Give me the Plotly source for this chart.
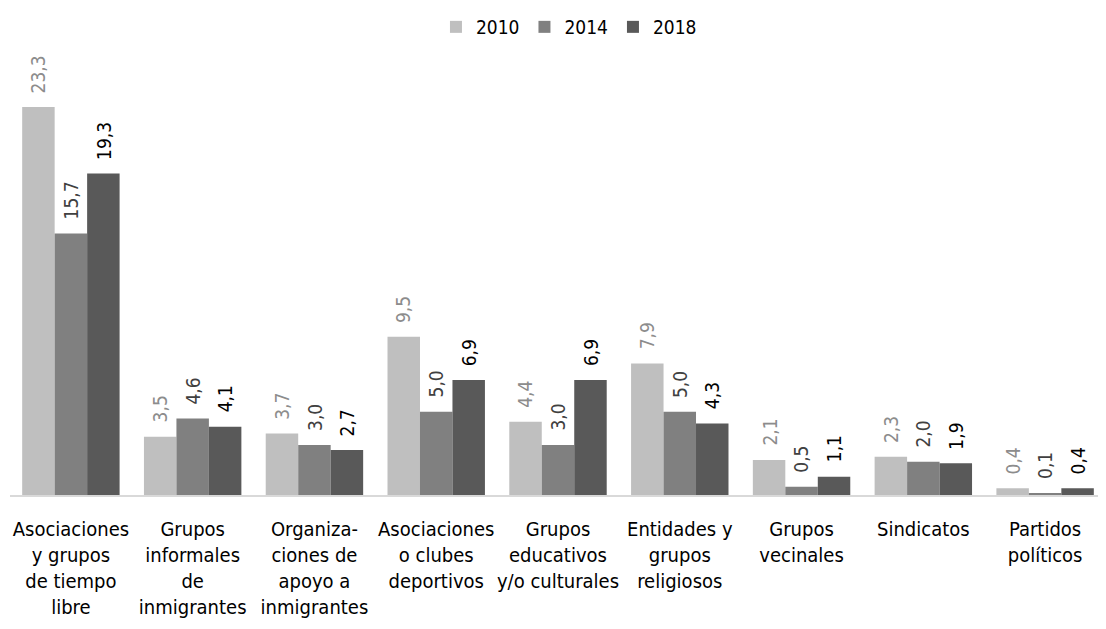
import plotly.graph_objects as go

categories = [
    "Asociaciones<br>y grupos<br>de tiempo<br>libre",
    "Grupos<br>informales<br>de<br>inmigrantes",
    "Organiza-<br>ciones de<br>apoyo a<br>inmigrantes",
    "Asociaciones<br>o clubes<br>deportivos",
    "Grupos<br>educativos<br>y/o culturales",
    "Entidades y<br>grupos<br>religiosos",
    "Grupos<br>vecinales",
    "Sindicatos",
    "Partidos<br>políticos",
]
series_names = ["2010", "2014", "2018"]
v2010 = [23.3, 3.5, 3.7, 9.5, 4.4, 7.9, 2.1, 2.3, 0.4]
v2014 = [15.7, 4.6, 3.0, 5.0, 3.0, 5.0, 0.5, 2.0, 0.1]
v2018 = [19.3, 4.1, 2.7, 6.9, 6.9, 4.3, 1.1, 1.9, 0.4]

values = [v2010, v2014, v2018]
bar_colors = ["#bfbfbf", "#808080", "#595959"]
label_colors = ["#8c8c8c", "#404040", "#000000"]

FONT = "DejaVu Sans Condensed, Liberation Sans Narrow, Arial Narrow, sans-serif"

# page body has an 8px margin; figure sized to fit the 1106x629 window
W, H = 1098, 621
ml, mr, mt, mb = 2, 0, 52, 134
plot_w = W - ml - mr
bargap = 0.2
cat_px = plot_w / len(categories)
bar_px = cat_px * (1 - bargap) / 3

fig = go.Figure()
for name, vals, c in zip(series_names, values, bar_colors):
    fig.add_trace(go.Bar(
        name=name, x=categories, y=vals, marker=dict(color=c, line=dict(width=0)),
        hoverinfo="x+y",
    ))

annotations = []
for i, (vals, lc) in enumerate(zip(values, label_colors)):
    for cat, v in zip(categories, vals):
        annotations.append(dict(
            x=cat, y=v, xref="x", yref="y",
            text=f"{v:.1f}".replace(".", ","),
            showarrow=False, textangle=-90,
            xanchor="center", yanchor="bottom",
            xshift=(i - 1) * bar_px, yshift=12,
            font=dict(family=FONT, size=19, color=lc),
        ))

plot_h = H - mb - mt
px_per_unit = (495 - 107) / 23.3
ymax = plot_h / px_per_unit

fig.update_layout(
    width=W, height=H,
    margin=dict(l=ml, r=mr, t=mt, b=mb),
    paper_bgcolor="white", plot_bgcolor="white",
    barmode="group", bargap=bargap, bargroupgap=0,
    font=dict(family=FONT, size=19, color="#000000"),
    legend=dict(orientation="h", x=0.51, xanchor="center", y=1.0, yanchor="top",
                yref="container", font=dict(family=FONT, size=19, color="#000"),
                itemwidth=30, tracegroupgap=0),
    annotations=annotations,
    showlegend=True,
)
fig.update_xaxes(showline=True, linecolor="#d9d9d9", linewidth=2, ticks="",
                 tickfont=dict(family=FONT, size=20, color="#000"),
                 ticklabelstandoff=15)
fig.update_yaxes(range=[0, ymax], showgrid=False, showticklabels=False,
                 zeroline=False, showline=False)

fig.write_html("out.html")
